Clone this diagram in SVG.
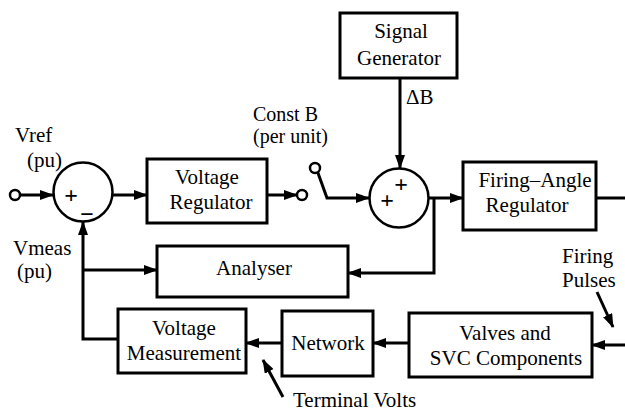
<svg xmlns="http://www.w3.org/2000/svg" width="625" height="414" viewBox="0 0 625 414">
<defs>
<marker id="arr" markerUnits="userSpaceOnUse" markerWidth="14" markerHeight="10" refX="13" refY="5" orient="auto">
<path d="M0,0 L14,5 L0,10 Z" fill="#000"/>
</marker>
<style>
.box{fill:#fff;stroke:#000;stroke-width:3}
.sum{fill:#fff;stroke:#000;stroke-width:2.5}
.term{fill:#fff;stroke:#000;stroke-width:2.5}
.ln{fill:none;stroke:#000;stroke-width:3}
.ar{fill:none;stroke:#000;stroke-width:3;marker-end:url(#arr)}
text{font-family:"Liberation Serif","Times New Roman",serif;font-size:21px;fill:#000}
.c{text-anchor:middle}
.sg{font-size:24px;font-weight:bold}
.sm{font-size:20px}
</style>
</defs>
<rect width="625" height="414" fill="#fff"/>
<g id="connectors">
<line class="ar" x1="20" y1="195" x2="53" y2="195"/>
<line class="ar" x1="112" y1="195" x2="147" y2="195"/>
<line class="ar" x1="267" y1="195" x2="297" y2="195"/>
<polyline class="ar" points="318,173 327,198 369,198"/>
<line class="ar" x1="400" y1="78" x2="400" y2="168"/>
<line class="ar" x1="428" y1="198" x2="463" y2="198"/>
<line class="ln" x1="596" y1="198" x2="625" y2="198"/>
<polyline class="ar" points="434,198 434,273 348,273"/>
<polyline class="ar" points="118,339 83,339 83,222"/>
<line class="ar" x1="83" y1="270" x2="157" y2="270"/>
<line class="ar" x1="282" y1="343" x2="246" y2="343"/>
<line class="ar" x1="409" y1="343" x2="373" y2="343"/>
<line class="ar" x1="625" y1="345" x2="592" y2="345"/>
<line class="ar" x1="597" y1="292" x2="613" y2="327"/>
<line class="ar" x1="283" y1="397" x2="263" y2="360"/>
</g>
<g id="vref">
<circle class="term" cx="15" cy="195" r="5"/>
<text x="15" y="142">Vref</text>
<text x="27" y="167">(pu)</text>
</g>
<g id="vmeas">
<text x="13" y="255">Vmeas</text>
<text x="17" y="278">(pu)</text>
</g>
<g id="sum1">
<circle class="sum" cx="83" cy="192" r="29.5"/>
<text class="c sg" x="71" y="203">+</text>
<text class="c sg" x="87" y="222">−</text>
</g>
<g id="voltage-regulator">
<rect class="box" x="147" y="159" width="120" height="64"/>
<text class="c" x="207" y="184">Voltage</text>
<text class="c" x="211" y="209">Regulator</text>
</g>
<g id="const-b">
<circle class="term" cx="302" cy="195" r="5"/>
<circle class="term" cx="315" cy="168" r="5"/>
<text class="sm" x="253" y="121">Const B</text>
<text class="sm" x="253" y="143">(per unit)</text>
</g>
<g id="signal-generator">
<rect class="box" x="340" y="13" width="117" height="65"/>
<text class="c" x="401" y="38">Signal</text>
<text class="c" x="399" y="65">Generator</text>
<text x="406" y="104">ΔB</text>
</g>
<g id="sum2">
<circle class="sum" cx="399" cy="198" r="29.5"/>
<text class="c sg" x="401" y="192">+</text>
<text class="c sg" x="387" y="208">+</text>
</g>
<g id="firing-angle-regulator">
<rect class="box" x="463" y="162" width="133" height="68"/>
<text class="c" x="535" y="187">Firing–Angle</text>
<text class="c" x="527" y="212">Regulator</text>
</g>
<g id="analyser">
<rect class="box" x="157" y="246" width="191" height="51"/>
<text class="c" x="254" y="275">Analyser</text>
</g>
<g id="firing-pulses">
<text x="562" y="263">Firing</text>
<text x="562" y="287">Pulses</text>
</g>
<g id="voltage-measurement">
<rect class="box" x="118" y="309" width="128" height="64"/>
<text class="c" x="184" y="335">Voltage</text>
<text class="c" x="184" y="360">Measurement</text>
</g>
<g id="network">
<rect class="box" x="282" y="311" width="91" height="65"/>
<text class="c" x="328" y="350">Network</text>
</g>
<g id="valves">
<rect class="box" x="409" y="313" width="183" height="64"/>
<text class="c" x="505" y="340">Valves and</text>
<text class="c" x="506" y="365">SVC Components</text>
</g>
<g id="terminal-volts">
<text x="293" y="407">Terminal Volts</text>
</g>
</svg>
